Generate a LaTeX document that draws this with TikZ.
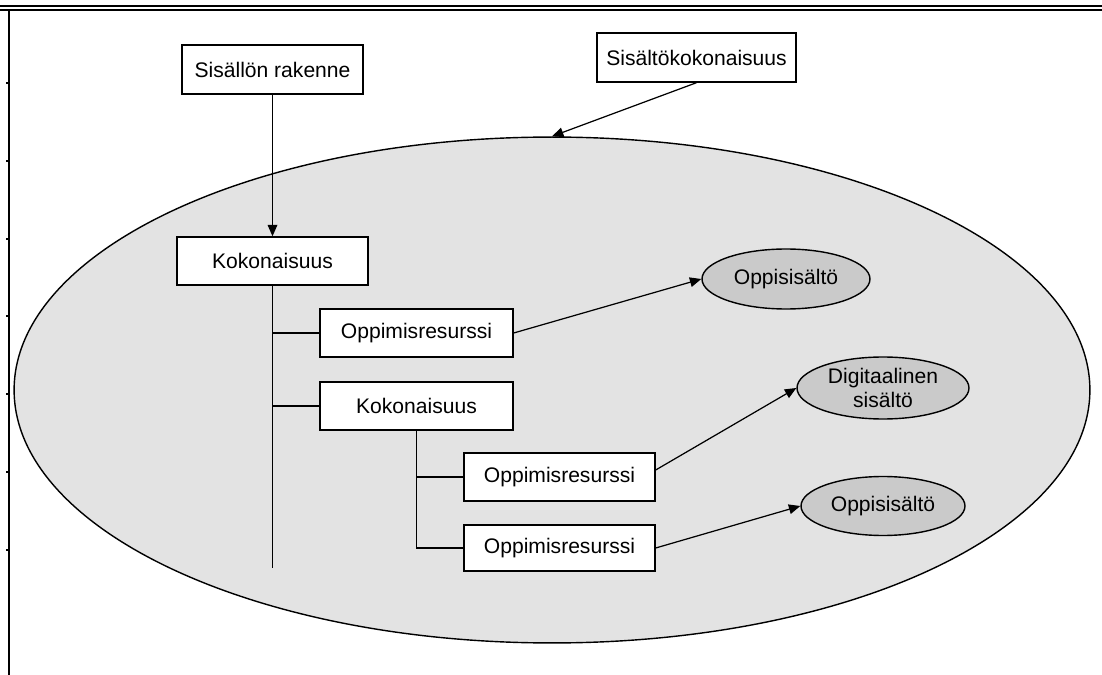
\documentclass[tikz,border=0pt]{standalone}
\usepackage{fontspec}
\setmainfont{Liberation Sans}
\usetikzlibrary{arrows.meta,shapes.geometric}
\definecolor{areagray}{HTML}{E3E3E3}
\definecolor{itemgray}{HTML}{CACACA}
\begin{document}
\begin{tikzpicture}[x=0.02cm,y=-0.02cm,
  txt/.style={font=\fontsize{12}{14}\selectfont},
  box/.style={txt,draw=black,line width=0.8pt,fill=white,inner sep=0pt,
              minimum width=3.84cm,minimum height=0.96cm},
  item/.style={txt,ellipse,draw=black,line width=0.8pt,fill=itemgray,inner sep=0pt,align=center},
  link/.style={line width=0.7pt},
  arr/.style={line width=0.7pt,-{Triangle[length=6.5pt,width=5.5pt]}}]
\useasboundingbox (0,0) rectangle (1102,675);

% page frame with tick marks
\draw[line width=1.2pt] (0,6) -- (1102,6);
\draw[line width=0.6pt] (0,10) -- (1102,10);
\draw[line width=0.7pt] (9,10) -- (9,675);
\foreach \ty in {83,161,239,316,394,472,550}
  \draw[line width=0.7pt] (6,\ty) -- (9,\ty);

% content area
\node[ellipse,draw=black,line width=0.8pt,fill=areagray,inner sep=0pt,
      minimum width=21.52cm,minimum height=10.12cm] (area) at (552,390) {};

% headings
\node[box,minimum width=3.62cm,minimum height=0.98cm] (rak) at (272.5,69.5) {Sisällön rakenne};
\node[box,minimum width=3.98cm,minimum height=0.98cm] (sk) at (696.5,57.5) {Sisältökokonaisuus};

% structure
\node[box,minimum width=3.82cm] (k1) at (272.5,261) {Kokonaisuus};
\node[box,minimum width=3.86cm] (r1) at (416.5,333) {Oppimisresurssi};
\node[box,minimum width=3.86cm] (k2) at (416.5,406) {Kokonaisuus};
\node[box,minimum width=3.82cm] (r2) at (559.5,477) {Oppimisresurssi};
\node[box,minimum width=3.82cm,minimum height=0.92cm] (r3) at (559.5,548) {Oppimisresurssi};

% contents
\node[item,minimum width=3.36cm,minimum height=1.2cm] (o1) at (786,279) {Oppisisältö};
\node[item,minimum width=3.44cm,minimum height=1.24cm] (dig) at (883,388) {Digitaalinen\\sisältö};
\node[item,minimum width=3.28cm,minimum height=1.18cm] (o2) at (883,506) {Oppisisältö};

% connectors
\draw[arr] (sk.south) -- (area.north);
\draw[arr] (rak.south) -- (k1.north);
\coordinate (trunkend) at (272.5,568);
\draw[link] (k1.south) -- (trunkend);
\draw[link] (r1.west -| k1.south) -- (r1.west);
\draw[link] (k2.west -| k1.south) -- (k2.west);
\draw[link] (k2.south) |- (r3.west);
\draw[link] (r2.west -| k2.south) -- (r2.west);
\draw[arr] (r1.east) -- (o1.west);
\draw[arr] ([yshift=0.14cm]r2.east) -- (dig.west);
\draw[arr] (r3.east) -- (o2.west);
\end{tikzpicture}
\end{document}
